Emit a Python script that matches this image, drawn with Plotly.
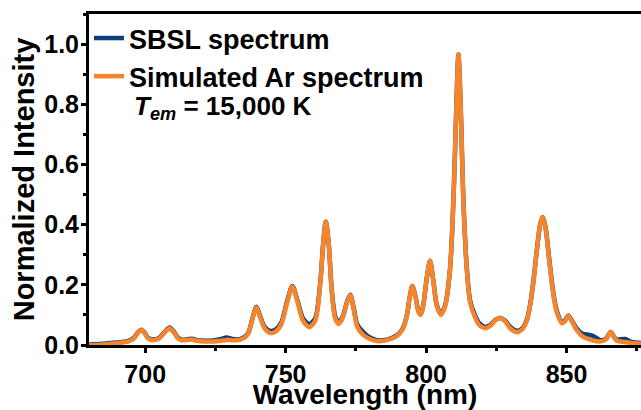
import plotly.graph_objects as go

# Wavelength grid (nm) and intensities
wavelength = [680, 685, 690, 694, 696, 697.5, 698.6, 699.8, 701, 703, 705, 707, 708.7, 710.2,
              711.5, 713, 715, 716.6, 718.5, 721, 724, 727, 729, 731, 734, 736.5, 738.3, 739.6,
              741, 742.5, 744.5, 746.5, 748.5, 750.5, 752.4, 754.3, 756.2, 758.4, 760.5, 762.3,
              763.4, 764.3, 765.3, 766.4, 767.6, 768.8, 770.3, 771.8, 773, 774.2, 775.5, 777.7,
              780, 782.5, 786, 789.6, 791.5, 793, 794.2, 795.1, 796.2, 797.3, 798.1, 799, 800.2,
              801.4, 802.6, 803.8, 805.3, 806.8, 808.5, 809.8, 810.8, 811.5, 812.3, 813.2, 814.5,
              815.7, 817.5, 819, 821, 823, 825, 826.3, 828, 830, 832.3, 834, 835.8, 837, 838.2,
              839.5, 840.6, 841.5, 842.5, 843.6, 844.7, 845.6, 846.5, 848.3, 849.5, 850.6, 851.8,
              853.6, 855.5, 857.2, 859.5, 861.9, 864, 865.7, 867, 867.8, 870.8, 873, 876.5]

sbsl = [0.002, 0.004, 0.008, 0.014, 0.024, 0.043, 0.051, 0.041, 0.024, 0.018, 0.024, 0.044, 0.058,
        0.044, 0.026, 0.018, 0.019, 0.021, 0.016, 0.014, 0.015, 0.02, 0.025, 0.02, 0.02, 0.037,
        0.092, 0.127, 0.094, 0.06, 0.047, 0.052, 0.076, 0.145, 0.196, 0.145, 0.088, 0.07, 0.088,
        0.205, 0.34, 0.41, 0.34, 0.185, 0.097, 0.075, 0.094, 0.142, 0.167, 0.125, 0.068, 0.042,
        0.025, 0.016, 0.018, 0.032, 0.052, 0.092, 0.16, 0.196, 0.162, 0.113, 0.102, 0.132, 0.22,
        0.28, 0.212, 0.133, 0.103, 0.133, 0.25, 0.5, 0.8, 0.965, 0.8, 0.5, 0.255, 0.146, 0.097,
        0.072, 0.06, 0.068, 0.086, 0.09, 0.082, 0.06, 0.047, 0.053, 0.082, 0.132, 0.212, 0.322,
        0.4, 0.425, 0.392, 0.305, 0.215, 0.155, 0.115, 0.076, 0.083, 0.098, 0.082, 0.055, 0.038,
        0.035, 0.03, 0.016, 0.02, 0.043, 0.026, 0.018, 0.02, 0.01, 0.007]

simulated = [0.0, 0.002, 0.006, 0.012, 0.022, 0.042, 0.05, 0.04, 0.022, 0.016, 0.022, 0.042, 0.056,
             0.042, 0.024, 0.016, 0.017, 0.018, 0.014, 0.012, 0.012, 0.014, 0.017, 0.016, 0.018,
             0.035, 0.09, 0.125, 0.09, 0.055, 0.04, 0.045, 0.07, 0.14, 0.194, 0.14, 0.08, 0.06,
             0.08, 0.2, 0.34, 0.41, 0.34, 0.18, 0.09, 0.07, 0.09, 0.14, 0.165, 0.12, 0.06, 0.033,
             0.02, 0.013, 0.016, 0.03, 0.05, 0.09, 0.16, 0.196, 0.16, 0.11, 0.1, 0.13, 0.22, 0.28,
             0.21, 0.13, 0.1, 0.13, 0.25, 0.5, 0.8, 0.965, 0.8, 0.5, 0.25, 0.14, 0.09, 0.065,
             0.056, 0.065, 0.085, 0.09, 0.08, 0.055, 0.043, 0.05, 0.08, 0.13, 0.21, 0.32, 0.4,
             0.425, 0.39, 0.3, 0.21, 0.15, 0.11, 0.072, 0.08, 0.097, 0.08, 0.05, 0.03, 0.022,
             0.015, 0.012, 0.018, 0.043, 0.025, 0.015, 0.01, 0.007, 0.005]

x_ticks = [700, 750, 800, 850]
y_ticks = [0.0, 0.2, 0.4, 0.6, 0.8, 1.0]
y_tick_labels = ["0.0", "0.2", "0.4", "0.6", "0.8", "1.0"]

FONT = "Liberation Sans, Arial, sans-serif"
BLUE = "#0d3f7f"
ORANGE = "#f5842a"

fig = go.Figure()
fig.add_trace(go.Scatter(x=wavelength, y=sbsl, mode="lines", name="SBSL spectrum",
                         line=dict(color=BLUE, width=4.5, shape="spline", smoothing=0.8)))
fig.add_trace(go.Scatter(x=wavelength, y=simulated, mode="lines", name="Simulated Ar spectrum",
                         line=dict(color=ORANGE, width=4.5, shape="spline", smoothing=0.8)))

fig.add_annotation(text="<i>T</i><sub><i>em</i></sub> = 15,000 K", xref="paper", yref="paper",
                   x=0.078, y=0.718, xanchor="left", yanchor="middle", showarrow=False,
                   font=dict(family=FONT, size=26, color="black", weight="bold"))

fig.update_layout(
    width=641, height=410,
    margin=dict(l=89, r=0, t=14, b=62),
    paper_bgcolor="white", plot_bgcolor="white",
    showlegend=True,
    legend=dict(x=0.0, y=1.0, xanchor="left", yanchor="top", bgcolor="rgba(0,0,0,0)",
                font=dict(family=FONT, size=27, color="black", weight="bold"),
                itemwidth=30, tracegroupgap=0),
    font=dict(family=FONT, color="black"),
)
fig.update_xaxes(range=[680, 876.5], tickvals=x_ticks, ticks="outside", ticklen=5, tickwidth=3,
                 tickcolor="black", showline=True, linecolor="black", linewidth=3, mirror=True,
                 showgrid=False, zeroline=False,
                 tickfont=dict(family=FONT, size=25, color="black", weight="bold"),
                 minor=dict(dtick=25, tick0=675, ticks="outside", ticklen=3, tickwidth=3, tickcolor="black"),
                 title=dict(text="Wavelength (nm)", standoff=2,
                            font=dict(family=FONT, size=28, color="black", weight="bold")))
fig.update_yaxes(range=[0, 1.1], tickvals=y_ticks, ticktext=y_tick_labels, ticks="outside",
                 ticklen=5, tickwidth=3, tickcolor="black", showline=True, linecolor="black",
                 linewidth=3, mirror=False, showgrid=False, zeroline=False,
                 tickfont=dict(family=FONT, size=25, color="black", weight="bold"),
                 ticklabelstandoff=-3,
                 minor=dict(dtick=0.1, tick0=0, ticks="outside", ticklen=3, tickwidth=3, tickcolor="black"),
                 title=dict(text="Normalized Intensity", standoff=2,
                            font=dict(family=FONT, size=29, color="black", weight="bold")))

fig.write_html("out.html")
